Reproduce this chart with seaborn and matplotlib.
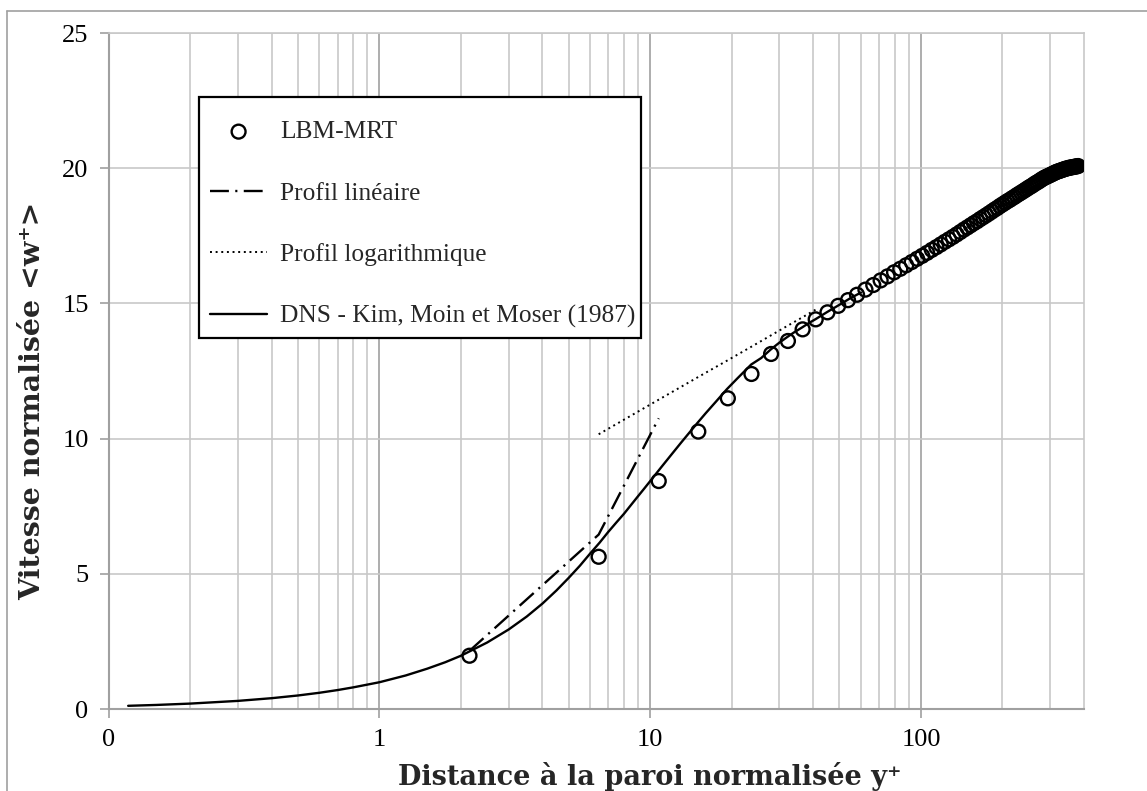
import numpy as np
import pandas as pd
import matplotlib
matplotlib.use('Agg')
import matplotlib.pyplot as plt
import seaborn as sns
from matplotlib.ticker import FixedLocator, FixedFormatter
from matplotlib.lines import Line2D
from matplotlib.patches import Rectangle

# LBM-MRT simulation points (y+, <w+>)
lbm_x = [2.15, 6.45, 10.75, 15.05, 19.35, 23.65, 27.95, 32.25, 36.55, 40.85,
         45.15, 49.45, 53.75, 58.05, 62.35, 66.65, 70.95, 75.25, 79.55, 83.85,
         88.15, 92.45, 96.75, 101.05, 105.35, 109.65, 113.95, 118.25, 122.55, 126.85,
         131.15, 135.45, 139.75, 144.05, 148.35, 152.65, 156.95, 161.25, 165.55, 169.85,
         174.15, 178.45, 182.75, 187.05, 191.35, 195.65, 199.95, 204.25, 208.55, 212.85,
         217.15, 221.45, 225.75, 230.05, 234.35, 238.65, 242.95, 247.25, 251.55, 255.85,
         260.15, 264.45, 268.75, 273.05, 277.35, 281.65, 285.95, 290.25, 294.55, 298.85,
         303.15, 307.45, 311.75, 316.05, 320.35, 324.65, 328.95, 333.25, 337.55, 341.85,
         346.15, 350.45, 354.75, 359.05, 363.35, 367.65, 371.95, 376.25, 380.55]
lbm_u = [1.97, 5.63, 8.43, 10.26, 11.49, 12.39, 13.13, 13.61, 14.04, 14.41,
         14.67, 14.91, 15.12, 15.32, 15.51, 15.68, 15.85, 16.00, 16.15, 16.28,
         16.41, 16.53, 16.65, 16.76, 16.87, 16.98, 17.08, 17.18, 17.28, 17.37,
         17.46, 17.55, 17.64, 17.73, 17.81, 17.89, 17.97, 18.04, 18.12, 18.19,
         18.26, 18.33, 18.40, 18.47, 18.53, 18.60, 18.66, 18.72, 18.78, 18.83,
         18.89, 18.94, 19.00, 19.05, 19.10, 19.15, 19.20, 19.25, 19.30, 19.34,
         19.39, 19.44, 19.48, 19.52, 19.57, 19.61, 19.65, 19.68, 19.71, 19.74,
         19.77, 19.80, 19.83, 19.86, 19.88, 19.90, 19.92, 19.94, 19.96, 19.98,
         19.99, 20.01, 20.02, 20.03, 20.04, 20.05, 20.06, 20.07, 20.08]

# linear profile u+ = y+
lin_x = [2.15, 6.45, 10.75]
lin_u = [2.15, 6.45, 10.75]

# log profile
log_x = [6.45, 10.75, 15.05, 19.35, 23.65, 27.95, 32.25, 36.55, 40.85]
log_u = [10.16, 11.44, 12.28, 12.90, 13.40, 13.82, 14.18, 14.49, 14.77]

# DNS Kim, Moin, Moser (1987)
dns_x = [0.118, 0.15, 0.2, 0.3, 0.4, 0.5, 0.6, 0.7, 0.8, 0.9,
         1.0, 1.25, 1.5, 1.75, 2.0, 2.5, 3.0, 3.5, 4.0, 4.5,
         5.0, 5.5, 6.0, 6.5, 7.0, 7.5, 8.0, 8.5, 9.0, 9.5,
         10.0, 11.0, 12.0, 13.0, 14.0, 15.0, 16.0, 17.5, 19.2, 21.0,
         23.6, 25.7, 27.9, 30.0, 32.0, 34.0, 36.5, 38.5, 40.85, 45.0,
         50.0, 55.0, 60.0]
dns_u = [0.118, 0.15, 0.2, 0.3, 0.4, 0.5, 0.6, 0.7, 0.8, 0.9,
         0.99, 1.24, 1.49, 1.73, 1.97, 2.46, 2.94, 3.42, 3.9, 4.38,
         4.85, 5.3, 5.75, 6.15, 6.55, 6.9, 7.22, 7.55, 7.86, 8.15,
         8.43, 8.95, 9.42, 9.85, 10.24, 10.6, 10.93, 11.37, 11.83, 12.23,
         12.74, 12.98, 13.3, 13.55, 13.75, 13.93, 14.12, 14.27, 14.42, 14.68,
         14.95, 15.2, 15.4]

x_ticks = [0.1, 1, 10, 100]
x_ticklabels = ['0', '1', '10', '100']
y_ticks = [0, 5, 10, 15, 20, 25]

sns.set_theme(style='white')
plt.rcParams['font.family'] = ['Liberation Serif', 'DejaVu Serif']

W, H = 1147, 791
fig = plt.figure(figsize=(W / 100, H / 100), dpi=100)
ax = fig.add_axes([108.7 / W, 1 - 709 / H, (1084 - 108.7) / W, (709 - 33) / H])

grid_col = '#c8c8c8'
axis_col = '#a0a0a0'

ax.set_xscale('log')

sns.lineplot(x=dns_x, y=dns_u, ax=ax, color='black', lw=1.7, sort=False,
             estimator=None, label='DNS - Kim, Moin et Moser (1987)', zorder=2)
sns.lineplot(x=lin_x, y=lin_u, ax=ax, color='black', lw=1.7, sort=False,
             estimator=None, linestyle=(0, (8, 2.7, 0.9, 2.7)),
             label='Profil linéaire', zorder=2)
sns.lineplot(x=log_x, y=log_u, ax=ax, color='black', lw=1.4, sort=False,
             estimator=None, linestyle=(0, (1, 1.9)),
             label='Profil logarithmique', zorder=2)
sns.scatterplot(x=lbm_x, y=lbm_u, ax=ax, marker='o', s=100, facecolor='none',
                edgecolor='black', linewidth=1.7, label='LBM-MRT', zorder=3)

ax.set_xlim(0.1, 400)
ax.set_ylim(0, 25)

minor = [m * d for d in (0.1, 1, 10) for m in range(2, 10)] + [200, 300]
ax.xaxis.set_major_locator(FixedLocator(x_ticks))
ax.xaxis.set_major_formatter(FixedFormatter(x_ticklabels))
ax.xaxis.set_minor_locator(FixedLocator(minor))
ax.set_yticks(y_ticks)

ax.grid(which='minor', axis='x', color=grid_col, lw=1.2)
ax.grid(which='major', axis='x', color=axis_col, lw=1.2)
ax.grid(which='major', axis='y', color=grid_col, lw=1.2)
ax.set_axisbelow(True)
ax.tick_params(which='minor', length=0)
ax.tick_params(which='major', direction='out', length=6.5, width=1.2,
               color=axis_col, labelsize=19, pad=8, labelcolor='black')
ax.tick_params(axis='x', which='major', labelbottom=True, bottom=True)
ax.tick_params(axis='y', which='major', left=True)

for s in ['left', 'bottom']:
    ax.spines[s].set_color(axis_col)
    ax.spines[s].set_linewidth(1.5)
for s in ['top', 'right']:
    ax.spines[s].set_color(grid_col)
    ax.spines[s].set_linewidth(1.2)

ax.set_xlabel('Distance à la paroi normalisée y⁺', family=['DejaVu Serif', 'DejaVu Sans'],
              fontweight='bold', fontsize=19.5, va='center')
ax.set_ylabel('Vitesse normalisée <w⁺>', family=['DejaVu Serif', 'DejaVu Sans'],
              fontweight='bold', fontsize=20.5, va='center')
ax.xaxis.set_label_coords(0.555, -0.1)
ax.yaxis.set_label_coords(-0.0776, 0.456)

handles, labels = ax.get_legend_handles_labels()
if ax.get_legend() is not None:
    ax.get_legend().remove()
order = ['LBM-MRT', 'Profil linéaire', 'Profil logarithmique', 'DNS - Kim, Moin et Moser (1987)']
hmap = dict(zip(labels, handles))

# legend box drawn by hand, entries placed inside it
fig.add_artist(Rectangle((199 / W, 1 - 338 / H), 442 / W, 241 / H, transform=fig.transFigure,
                         facecolor='white', edgecolor='black', lw=1.6, zorder=4))
leg = fig.legend([hmap[l] for l in order], order, loc='upper left',
                 bbox_to_anchor=(210 / W, 1 - 120.5 / H), bbox_transform=fig.transFigure,
                 frameon=False, borderaxespad=0, borderpad=0, fontsize=18.3,
                 handlelength=2.25, handletextpad=0.5, labelspacing=1.52)
leg.set_zorder(5)

# outer chart border
fig.add_artist(Line2D([7 / W, 7 / W], [0, 1 - 11 / H], transform=fig.transFigure,
                      color=axis_col, lw=1.2))
fig.add_artist(Line2D([7 / W, 1], [1 - 11 / H, 1 - 11 / H], transform=fig.transFigure,
                      color=axis_col, lw=1.2))

fig.savefig('out.png', dpi=100)
